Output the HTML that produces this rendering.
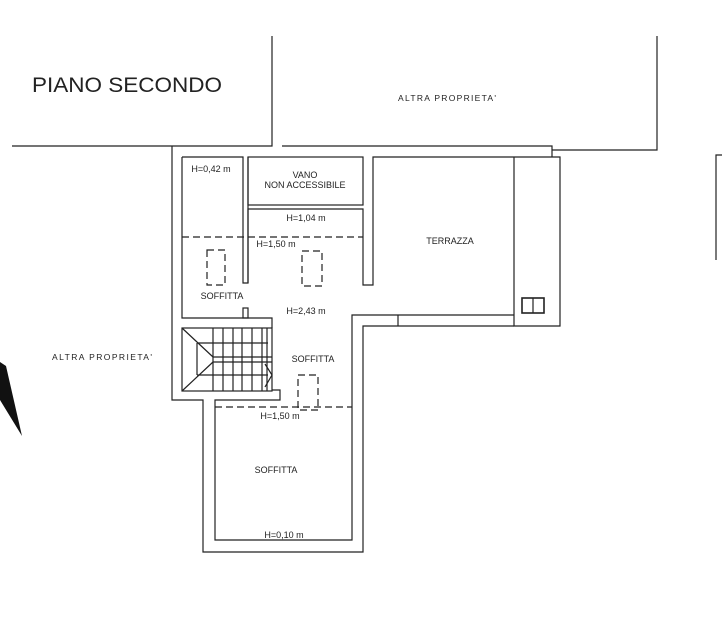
<!DOCTYPE html>
<html><head><meta charset="utf-8"><style>
html,body{margin:0;padding:0;background:#fff;}
svg{display:block;}
text{font-family:"Liberation Sans",sans-serif;fill:#222;}
</style></head><body>
<svg width="722" height="626" viewBox="0 0 722 626" xmlns="http://www.w3.org/2000/svg">
<g stroke="#222" stroke-width="1.2" fill="none">
<polyline points="12,146 272,146 272,36"/>
<polyline points="282,146 552,146 552,157"/>
<polyline points="552,150 657,150 657,36"/>
<polyline points="722,155 716,155 716,260"/>
<polyline points="172,146 172,400 203,400 203,552 363,552 363,326 514,326"/>
<polyline points="182,157 182,318 272,318 272,328"/>
<polyline points="182,157 243,157 243,283 248,283 248,157"/>
<rect x="248" y="157" width="115" height="48"/>
<polyline points="248,283 248,209 363,209 363,285 373,285 373,157 560,157 560,326 514,326 514,157"/>
<rect x="243" y="308" width="5" height="10"/>
<polyline points="272,390 280,390 280,400 215,400 215,540 352,540 352,315 514,315"/>
<line x1="398" y1="315" x2="398" y2="326"/>
<rect x="522" y="298" width="22" height="15" stroke-width="1.6"/>
<line x1="533" y1="298" x2="533" y2="313"/>
<rect x="182" y="328" width="90" height="63"/>
<line x1="197" y1="343" x2="268" y2="343"/>
<line x1="213" y1="357" x2="272" y2="357"/>
<line x1="213" y1="362" x2="272" y2="362"/>
<line x1="197" y1="375" x2="268" y2="375"/>
<line x1="197" y1="343" x2="197" y2="375"/>
<line x1="182" y1="328" x2="213" y2="357"/>
<line x1="182" y1="391" x2="213" y2="362"/>
<line x1="213" y1="328" x2="213" y2="391"/>
<line x1="223" y1="328" x2="223" y2="391"/>
<line x1="233" y1="328" x2="233" y2="391"/>
<line x1="242" y1="328" x2="242" y2="391"/>
<line x1="252" y1="328" x2="252" y2="391"/>
<line x1="262" y1="328" x2="262" y2="391"/>
<line x1="267" y1="328" x2="267" y2="391"/>
<polyline points="265,364 272,375 265,387"/>
</g>
<g stroke="#222" stroke-width="1.2" fill="none" stroke-dasharray="7,4">
<line x1="182" y1="237" x2="363" y2="237"/>
<line x1="215" y1="407" x2="352" y2="407"/>
<rect x="207" y="250" width="18" height="35"/>
<rect x="302" y="251" width="20" height="35"/>
<rect x="298" y="375" width="20" height="35"/>
</g>
<polygon points="0,362 6,366 22,436 0,400" fill="#111"/>
<text x="32" y="92" font-size="21" textLength="190" lengthAdjust="spacingAndGlyphs">PIANO SECONDO</text>
<text x="398" y="101" font-size="8.5" textLength="98" lengthAdjust="spacing">ALTRA  PROPRIETA'</text>
<text x="52" y="360" font-size="8.5" textLength="100" lengthAdjust="spacing">ALTRA  PROPRIETA'</text>
<g font-size="9" text-anchor="middle">
<text x="211" y="172">H=0,42 m</text>
<text x="305" y="178">VANO</text>
<text x="305" y="188">NON ACCESSIBILE</text>
<text x="306" y="221">H=1,04 m</text>
<text x="276" y="247">H=1,50 m</text>
<text x="222" y="299">SOFFITTA</text>
<text x="306" y="314">H=2,43 m</text>
<text x="450" y="244">TERRAZZA</text>
<text x="313" y="362">SOFFITTA</text>
<text x="280" y="419">H=1,50 m</text>
<text x="276" y="473">SOFFITTA</text>
<text x="284" y="538">H=0,10 m</text>
</g>
</svg>
</body></html>
